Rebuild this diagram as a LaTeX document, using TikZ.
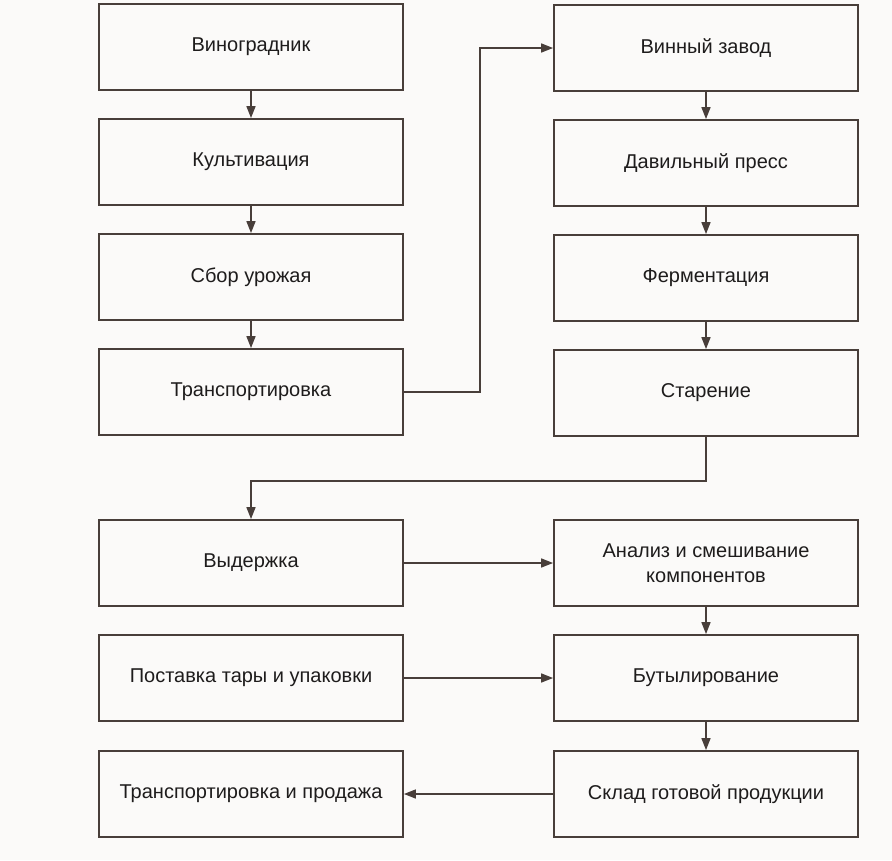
\documentclass[tikz,border=0pt]{standalone}
\usepackage{fontspec}
\setmainfont{Liberation Sans}
\usepackage{tikz}
\usetikzlibrary{arrows.meta,positioning,calc}
\definecolor{inkline}{RGB}{72,62,58}
\definecolor{inktext}{RGB}{30,28,28}
\definecolor{paper}{RGB}{251,250,249}
\tikzset{
    stage/.style={rectangle, draw=inkline, line width=1.8pt, minimum width=304pt, minimum height=86pt, align=center, font=\fontsize{20}{25}\selectfont, text=inktext, inner sep=0pt},
    flow/.style={draw=inkline, line width=1.5pt, -{Triangle[length=12pt,width=9pt]}},
}

\begin{document}
\begin{tikzpicture}[x=1pt,y=-1pt]
    \fill[paper] (0,0) rectangle (892,860);
    \useasboundingbox (0,0) rectangle (892,860);
    % left column
    \foreach \y/\n/\txt in {47/1/Виноградник, 162/2/Культивация, 277/3/Сбор урожая, 392/4/Транспортировка, 563/5/Выдержка, 678/6/Поставка тары и упаковки, 794/7/Транспортировка и продажа} {
        \node[stage] (L\n) at (251,\y) {\txt};
    }
    % right column
    \foreach \y/\n/\txt in {48/1/Винный завод, 163/2/Давильный пресс, 278/3/Ферментация, 393/4/Старение, 563/5/{Анализ и смешивание\\компонентов}, 678/6/Бутылирование, 794/7/Склад готовой продукции} {
        \node[stage] (R\n) at (706,\y) {\txt};
    }
    \foreach \a/\b in {1/2, 2/3, 3/4} {
        \draw[flow] (L\a) -- (L\b);
    }
    \foreach \a/\b in {1/2, 2/3, 3/4, 5/6, 6/7} {
        \draw[flow] (R\a) -- (R\b);
    }
    \draw[flow] (L4.east) -- ($(L4.east)+(76,0)$) |- (R1.west);
    \draw[flow] (R4.south) -- ++(0,44) -| (L5.north);
    \draw[flow] (L5) -- (R5);
    \draw[flow] (L6) -- (R6);
    \draw[flow] (R7) -- (L7);
\end{tikzpicture}
\end{document}
